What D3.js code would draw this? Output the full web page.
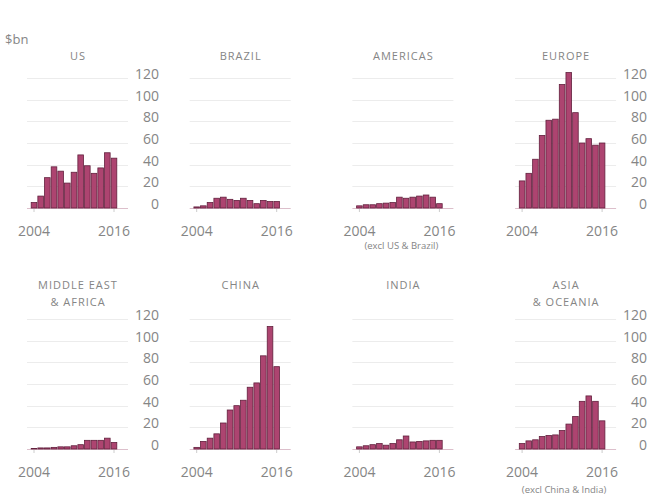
<!DOCTYPE html>
<html>
<head>
<meta charset="utf-8">
<script src="https://cdn.jsdelivr.net/npm/d3@7"></script>
<style>
  html, body { margin: 0; padding: 0; background: #fff; }
  svg { display: block; font-family: "Open Sans", "DejaVu Sans", sans-serif; }
</style>
</head>
<body>
<svg id="chart" width="652" height="495"></svg>
<script>
// ---- data ----
const years = [2004, 2005, 2006, 2007, 2008, 2009, 2010, 2011, 2012, 2013, 2014, 2015, 2016];
const yTicks = [0, 20, 40, 60, 80, 100, 120];
const xTickLabels = [2004, 2016];
const unitLabel = "$bn";

const panelTitles = [
  ["US"], ["BRAZIL"], ["AMERICAS"], ["EUROPE"],
  ["MIDDLE EAST", "& AFRICA"], ["CHINA"], ["INDIA"], ["ASIA", "& OCEANIA"]
];
const panelNotes = ["", "", "(excl US & Brazil)", "", "", "", "", "(excl China & India)"];

const usValues       = [5, 11, 28, 38, 34, 23, 33, 49, 39, 32, 37, 51, 46];
const brazilValues   = [1, 2, 5, 9, 10, 8, 7, 9, 7, 4, 7, 6, 6];
const americasValues = [2, 3, 3, 4, 4.5, 5, 10, 9, 10, 11, 12, 10, 4];
const europeValues   = [25, 32, 45, 67, 81, 82, 114, 125, 88, 60, 64, 58, 60];
const meaValues      = [0.5, 1, 1, 1.5, 2, 2, 3, 4, 8, 8, 8, 10, 6];
const chinaValues    = [1.5, 7, 10, 14, 24, 36, 40, 45, 57, 61, 86, 113, 76];
const indiaValues    = [2, 3, 4, 5, 3.5, 5, 8.5, 12, 6.5, 7, 7.5, 8, 8];
const asiaValues     = [5, 7.5, 8.5, 11.5, 12.5, 13, 17, 23, 30, 44, 49, 44, 26];

const seriesList = [usValues, brazilValues, americasValues, europeValues,
                    meaValues, chinaValues, indiaValues, asiaValues];

// ---- layout ----
const colStart = 34, colStep = 162.7, barSpan = 80;
const rows = [
  { base: 208, titleY: 60, noteDy: 41 },
  { base: 449, titleY: 289, noteDy: 44 }
];
const yPix = 130; // pixel height for 0..120
const barFill = "#ad4470", barStroke = "#62203d";
const textCol = "#858585";

const svg = d3.select("#chart");

svg.append("text")
  .attr("x", 5).attr("y", 44)
  .attr("font-size", 13).attr("fill", textCol)
  .text(unitLabel);

seriesList.forEach((vals, i) => {
  const row = rows[Math.floor(i / 4)];
  const col = i % 4;
  const c0 = colStart + col * colStep;     // center of first bar
  const step = barSpan / (years.length - 1);

  const x = d3.scaleBand()
    .domain(years)
    .range([c0 - step / 2, c0 + barSpan + step / 2])
    .paddingInner(0.16).paddingOuter(0.08);
  const y = d3.scaleLinear().domain([0, 120]).range([row.base, row.base - yPix]);

  const g = svg.append("g");
  const gx0 = c0 - 7, gx1 = c0 + barSpan + 14;

  // gridlines
  g.selectAll("line.grid").data(yTicks).join("line")
    .attr("class", "grid")
    .attr("x1", gx0).attr("x2", gx1)
    .attr("y1", d => Math.round(y(d)) + 0.5).attr("y2", d => Math.round(y(d)) + 0.5)
    .attr("stroke", d => d === 0 ? "#dcbfcb" : "#ececec")
    .attr("stroke-width", 1);

  // bars
  g.selectAll("rect.bar").data(vals).join("rect")
    .attr("class", "bar")
    .attr("x", (d, j) => x(years[j]))
    .attr("width", x.bandwidth())
    .attr("y", d => y(d))
    .attr("height", d => y(0) - y(d))
    .attr("fill", barFill)
    .attr("stroke", barStroke)
    .attr("stroke-width", 0.8);

  // x ticks + labels
  const xc = yr => x(yr) + x.bandwidth() / 2;
  g.selectAll("line.xt").data(xTickLabels).join("line")
    .attr("class", "xt")
    .attr("x1", d => xc(d)).attr("x2", d => xc(d))
    .attr("y1", row.base + 1).attr("y2", row.base + 4)
    .attr("stroke", "#cccccc");
  g.selectAll("text.xl").data(xTickLabels).join("text")
    .attr("class", "xl")
    .attr("x", d => xc(d)).attr("y", row.base + 28)
    .attr("text-anchor", "middle")
    .attr("font-size", 14).attr("fill", textCol)
    .text(d => d);

  // y labels on outer columns
  if (col === 0 || col === 3) {
    g.selectAll("text.yl").data(yTicks).join("text")
      .attr("class", "yl")
      .attr("x", c0 + barSpan + 45).attr("y", d => y(d) + 1)
      .attr("text-anchor", "end")
      .attr("font-size", 14).attr("fill", textCol)
      .text(d => d);
  }

  // title
  const tcx = c0 + barSpan / 2 + 4;
  g.selectAll("text.title").data(panelTitles[i]).join("text")
    .attr("class", "title")
    .attr("x", tcx).attr("y", (d, k) => row.titleY + k * 17)
    .attr("text-anchor", "middle")
    .attr("font-size", 11).attr("letter-spacing", 1)
    .attr("fill", textCol)
    .text(d => d);

  // note
  if (panelNotes[i]) {
    g.append("text")
      .attr("x", c0 + barSpan / 2 + 2)
      .attr("y", row.base + row.noteDy)
      .attr("text-anchor", "middle")
      .attr("font-size", 9.5).attr("fill", textCol)
      .text(panelNotes[i]);
  }
});
</script>
</body>
</html>
